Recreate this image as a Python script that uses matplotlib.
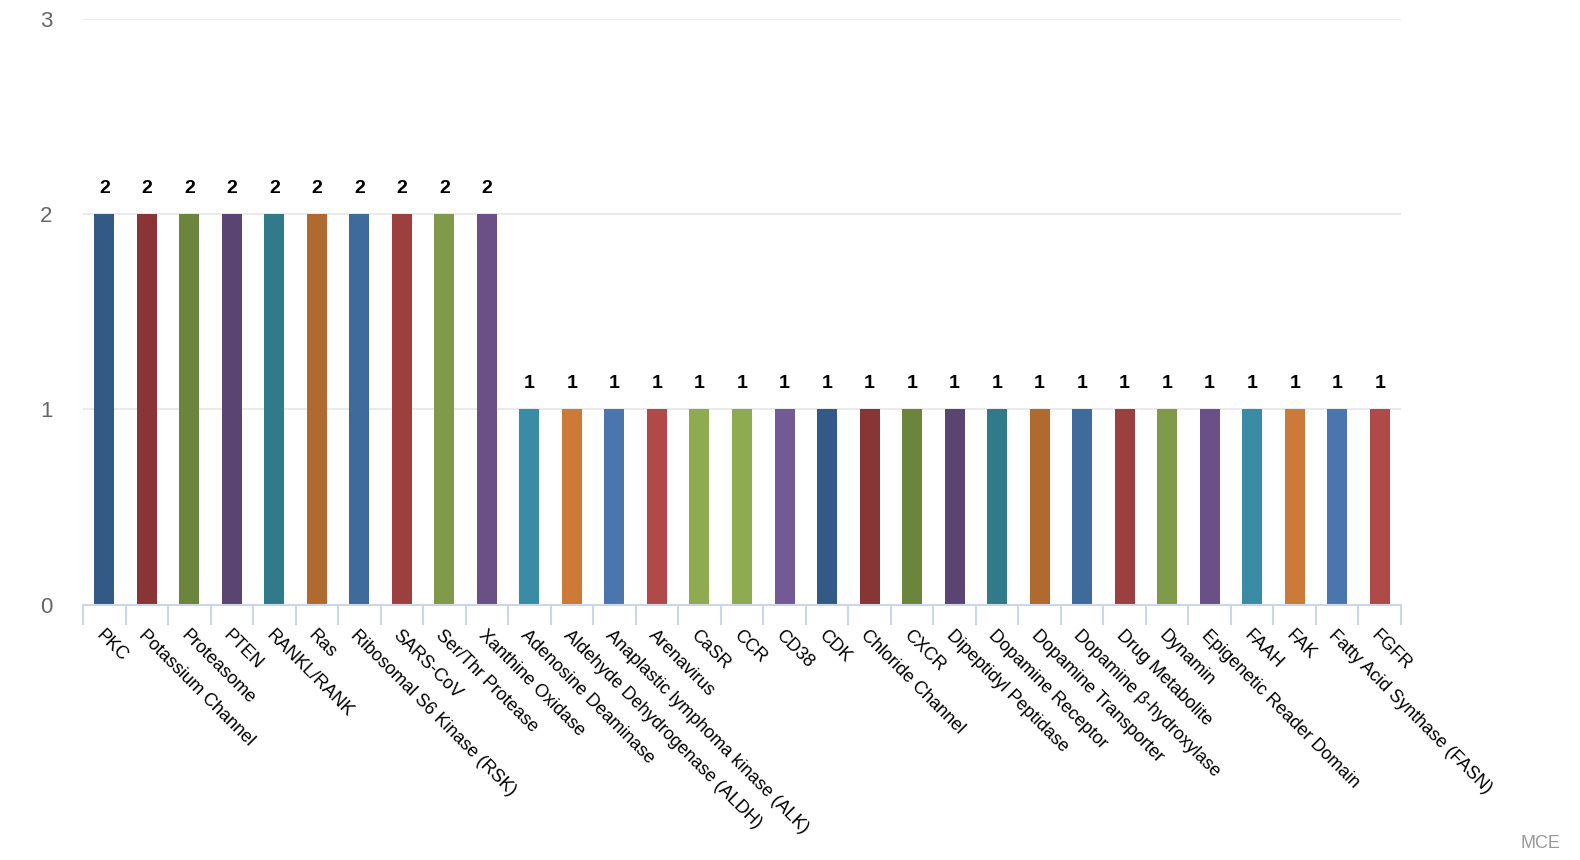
import matplotlib
matplotlib.use('Agg')
import matplotlib.pyplot as plt
import numpy as np

# categories and counts
categories = [
    'PKC', 'Potassium Channel', 'Proteasome', 'PTEN', 'RANKL/RANK', 'Ras',
    'Ribosomal S6 Kinase (RSK)', 'SARS-CoV', 'Ser/Thr Protease', 'Xanthine Oxidase',
    'Adenosine Deaminase', 'Aldehyde Dehydrogenase (ALDH)', 'Anaplastic lymphoma kinase (ALK)',
    'Arenavirus', 'CaSR', 'CCR', 'CD38', 'CDK', 'Chloride Channel', 'CXCR',
    'Dipeptidyl Peptidase', 'Dopamine Receptor', 'Dopamine Transporter',
    'Dopamine β-hydroxylase', 'Drug Metabolite', 'Dynamin', 'Epigenetic Reader Domain',
    'FAAH', 'FAK', 'Fatty Acid Synthase (FASN)', 'FGFR',
]
counts = [2, 2, 2, 2, 2, 2, 2, 2, 2, 2,
          1, 1, 1, 1, 1, 1, 1, 1, 1, 1, 1, 1, 1, 1, 1, 1, 1, 1, 1, 1, 1]

palette = ['#335a85', '#8a3535', '#6b853c', '#5a4572', '#317a8a', '#b06a30',
           '#3f6a9c', '#9c3f3f', '#7f9a48', '#6a5087', '#3a8ca4', '#cc7a38',
           '#4a76ad', '#b04a48', '#8eab52', '#8eab52', '#745a94']

plt.rcParams['font.family'] = ['Liberation Sans', 'DejaVu Sans']

fig = plt.figure(figsize=(15.8, 8.6), dpi=100)
ax = fig.add_axes([83 / 1580, 1 - 604.6 / 860, (1401 - 83) / 1580, (604.6 - 18.7) / 860])

n = np.arange(len(categories))
colors = [palette[i % len(palette)] for i in n]
bars = ax.bar(n, counts, width=0.47, color=colors, zorder=3)

# value labels above bars
for b, v in zip(bars, counts):
    ax.annotate(str(v), (b.get_x() + b.get_width() / 2, v), xytext=(0, 15),
                textcoords='offset points', ha='center', va='baseline',
                fontsize=14, fontweight='bold', color='#000000')

ax.set_xlim(-0.5, len(categories) - 0.5)
ax.set_ylim(0, 3)
ax.set_yticks([0, 1, 2, 3])
ax.grid(axis='y', color='#e6e6e6', linewidth=1.2, zorder=0)
ax.tick_params(axis='y', length=0, pad=22, labelsize=16, labelcolor='#666666')

# category labels at centers, tick marks at boundaries
ax.set_xticks(n)
ax.set_xticklabels(categories, rotation=-45, ha='left', va='top',
                   rotation_mode='anchor', fontsize=13, color='#000000')
ax.tick_params(axis='x', which='major', length=0, pad=16)
ax.set_xticks(np.arange(len(categories) + 1) - 0.5, minor=True)
ax.tick_params(axis='x', which='minor', length=14.5, width=1.5, color='#ccd6eb')

for s in ['top', 'right', 'left']:
    ax.spines[s].set_visible(False)
ax.spines['bottom'].set_color('#ccd6eb')
ax.spines['bottom'].set_linewidth(1.5)
ax.spines['bottom'].set_zorder(4)

fig.text(1560 / 1580, 1 - 843 / 860, 'MCE', ha='right', va='center',
         fontsize=13, color='#999999')

fig.savefig('out.png', dpi=100)
